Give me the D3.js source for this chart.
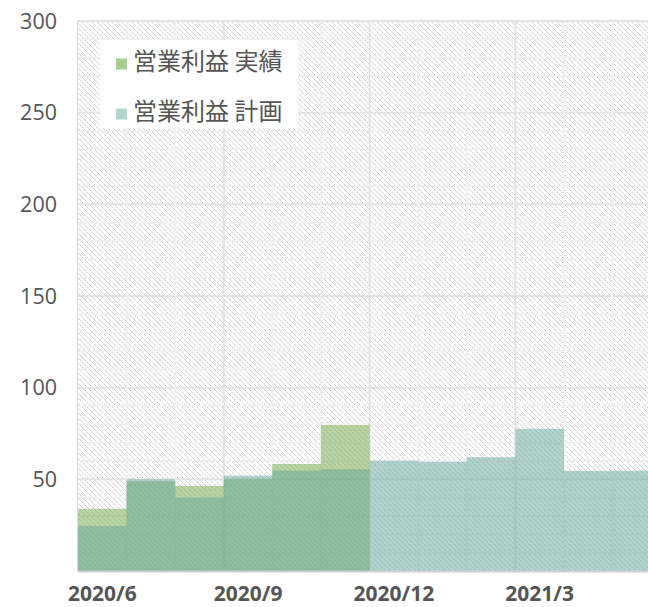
<!DOCTYPE html>
<html><head><meta charset="utf-8">
<script src="https://cdn.jsdelivr.net/npm/d3@7"></script>
<style>
html,body{margin:0;padding:0;background:#fff;}
svg{display:block;}
text{font-family:"Open Sans","Noto Sans CJK JP",sans-serif;fill:#555555;}
</style></head>
<body><svg id="c" width="648" height="607"></svg>
<script>
const months = ["2020/6","2020/7","2020/8","2020/9","2020/10","2020/11","2020/12","2021/1","2021/2","2021/3","2021/4","2021/5"];
const actual = [34, 49, 46.4, 50, 58.4, 79.6];
const plan = [24.5, 50, 40, 52, 54.7, 55.5, 60.2, 59.6, 62, 77.6, 54.5, 54.7];
const xTickLabels = ["2020/6","2020/9","2020/12","2021/3"];
const yTicks = [50,100,150,200,250,300];
const seriesNames = ["営業利益 実績","営業利益 計画"];

(function(){
const svg = d3.select("#c");
const pL = 78, pT = 21, pB = 571, bw = 48.6;
const x = d3.scaleBand().domain(months).range([pL, pL + bw*months.length]).padding(0);
const y = d3.scaleLinear().domain([0,300]).range([pB, pT]);

const defs = svg.append("defs");
const P = 5;
const pat = defs.append("pattern").attr("id","hatch").attr("patternUnits","userSpaceOnUse")
  .attr("width",P).attr("height",P);
pat.append("rect").attr("width",P).attr("height",P).attr("fill","#fff");
for (let i=0;i<P;i++){
  pat.append("rect").attr("x",i).attr("y",i).attr("width",1).attr("height",1)
    .attr("fill", i%2===0 ? "#cdcdcd" : "#e4e4e4");
}
defs.append("clipPath").attr("id","clip").append("rect")
  .attr("x",pL).attr("y",pT-2).attr("width",648-pL).attr("height",pB-pT+4);

const plot = svg.append("g").attr("clip-path","url(#clip)");
plot.append("rect").attr("x",pL).attr("y",pT).attr("width",x.range()[1]-pL).attr("height",pB-pT)
  .attr("fill","url(#hatch)");

const hTicks = d3.range(10,301,10);
plot.selectAll(".hg").data(hTicks).join("line")
  .attr("x1",pL).attr("x2",x.range()[1])
  .attr("y1",d=>y(d)).attr("y2",d=>y(d))
  .attr("stroke",d=>d%50===0?"#e3e3e3":"#f0f0f0").attr("stroke-width",2);
plot.selectAll(".vg").data(months.slice(1)).join("line")
  .attr("x1",d=>x(d)).attr("x2",d=>x(d))
  .attr("y1",pT).attr("y2",pB)
  .attr("stroke",(d,i)=>((i+1)%3===0)?"#e3e3e3":"#f0f0f0").attr("stroke-width",2);

function stepPath(vals){
  const pts = [];
  vals.forEach((v,i)=>{
    const m = months[i];
    pts.push([x(m), y(v)]);
    pts.push([x(m)+x.bandwidth(), y(v)]);
  });
  return d3.area().x(d=>d[0]).y0(pB).y1(d=>d[1])(pts);
}
plot.append("path").attr("d",stepPath(actual)).attr("fill","rgb(113,169,69)").attr("fill-opacity",0.5);
plot.append("path").attr("d",stepPath(plan)).attr("fill","rgb(101,165,155)").attr("fill-opacity",0.5);

svg.append("line").attr("x1",pL).attr("x2",648).attr("y1",pB+0.5).attr("y2",pB+0.5)
  .attr("stroke","#cfcfcf").attr("stroke-width",2);
svg.append("line").attr("x1",pL-0.5).attr("x2",pL-0.5).attr("y1",pT).attr("y2",pB)
  .attr("stroke","#d9d9d9").attr("stroke-width",1);

svg.selectAll(".yl").data(yTicks).join("text")
  .attr("x",57).attr("y",d=>y(d)).attr("dy","0.35em").attr("text-anchor","end")
  .attr("font-size",21.5).text(d=>d);

svg.selectAll(".xl").data(xTickLabels).join("text")
  .attr("x",d=>x(d)+x.bandwidth()/2).attr("y",601).attr("text-anchor","middle")
  .attr("font-size",21).attr("font-weight","bold").text(d=>d);

const lg = svg.append("g");
lg.append("rect").attr("x",100).attr("y",40).attr("width",198).attr("height",88).attr("fill","#fff");
const legColors = ["rgb(170,205,144)","rgb(180,212,207)"];
seriesNames.forEach((n,i)=>{
  const cy = 62 + i*50;
  lg.append("rect").attr("x",116).attr("y",cy-3.5).attr("width",11).attr("height",11).attr("fill",legColors[i]);
  lg.append("text").attr("x",133).attr("y",cy).attr("dy","0.35em").attr("font-size",24)
    .style("font-family","'Noto Sans CJK JP',sans-serif").text(n);
});
})();
</script></body></html>
